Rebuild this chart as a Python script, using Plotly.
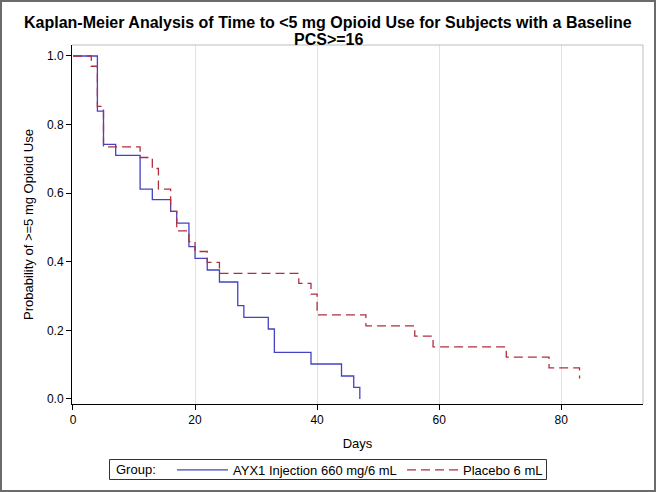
import plotly.graph_objects as go

# Data
ayx_days = [0, 4, 5, 7, 11, 13, 16, 17, 19, 20, 22, 24, 27, 28, 32, 33, 39, 44, 46, 47]
ayx_surv = [1.0, 0.839, 0.742, 0.710, 0.612, 0.581, 0.547, 0.513, 0.444, 0.410,
            0.376, 0.341, 0.272, 0.238, 0.204, 0.136, 0.102, 0.067, 0.034, 0.0]

pbo_days = [0, 3, 4, 5, 11, 13, 14, 16, 17, 19, 20, 22, 24, 37, 39, 40, 48, 56, 59, 71, 78, 83]
pbo_surv = [1.0, 0.970, 0.853, 0.735, 0.704, 0.672, 0.612, 0.547, 0.490, 0.459, 0.430,
            0.398, 0.366, 0.337, 0.306, 0.245, 0.213, 0.183, 0.152, 0.122, 0.091, 0.060]

x_ticks = [0, 20, 40, 60, 80]
y_ticks = [0.0, 0.2, 0.4, 0.6, 0.8, 1.0]

title_line1 = "Kaplan-Meier Analysis of Time to &lt;5 mg Opioid Use for Subjects with a Baseline"
title_line2 = "PCS&gt;=16"
legend_title = "Group:"

FONT = "Liberation Sans, Arial, sans-serif"

fig = go.Figure()
fig.add_trace(go.Scatter(x=ayx_days, y=ayx_surv, mode="lines", line_shape="hv",
                         name="AYX1 Injection 660 mg/6 mL",
                         line=dict(color="#4343c4", width=1.3)))
fig.add_trace(go.Scatter(x=pbo_days, y=pbo_surv, mode="lines", line_shape="hv",
                         name="Placebo 6 mL",
                         line=dict(color="#b02f3f", width=1.3, dash="9px,5px")))

L, R, T, B = 72, 13, 45, 88
W, H = 656, 492
pw, ph = W - L - R, H - T - B

def px2paper_x(px):
    return (px - L) / pw

def px2paper_y(py):
    return (H - B - py) / ph

fig.update_layout(
    width=W, height=H,
    margin=dict(l=L, r=R, t=T, b=B, autoexpand=False),
    paper_bgcolor="white", plot_bgcolor="white",
    font=dict(family=FONT, size=12, color="black"),
    xaxis=dict(range=[-0.16, 93.4], tickvals=x_ticks, ticks="outside", ticklen=5,
               tickcolor="black", showline=True, linecolor="black", linewidth=1,
               showgrid=True, gridcolor="#e2e2e2", gridwidth=1, zeroline=False,
               title=dict(text="Days", font=dict(size=13), standoff=12),
               tickfont=dict(size=12), automargin=False),
    yaxis=dict(range=[-0.0146, 1.032], tickvals=y_ticks, tickformat=".1f", ticks="outside",
               ticklen=5, tickcolor="black", showline=True, linecolor="black", linewidth=1,
               showgrid=False, zeroline=False,
               title=dict(text="Probability of &gt;=5 mg Opioid Use", font=dict(size=13), standoff=10),
               tickfont=dict(size=12), automargin=False),
    legend=dict(orientation="h", x=px2paper_x(172), xanchor="left",
                y=px2paper_y(470), yanchor="middle",
                borderwidth=0, bgcolor="rgba(0,0,0,0)",
                font=dict(size=13), itemwidth=51, tracegroupgap=0,
                entrywidth=164, entrywidthmode="pixels"),
    showlegend=True,
    annotations=[
        dict(text="<b>" + title_line1 + "</b>", xref="paper", yref="paper",
             x=px2paper_x(328), y=px2paper_y(22), xanchor="center", yanchor="middle",
             showarrow=False, font=dict(size=16, family=FONT, color="black")),
        dict(text="<b>" + title_line2 + "</b>", xref="paper", yref="paper",
             x=px2paper_x(328), y=px2paper_y(40), xanchor="center", yanchor="middle",
             showarrow=False, font=dict(size=16, family=FONT, color="black")),
        dict(text=legend_title, xref="paper", yref="paper",
             x=px2paper_x(114), y=px2paper_y(470), xanchor="left", yanchor="middle",
             showarrow=False, font=dict(size=13, family=FONT, color="black")),
    ],
    shapes=[
        dict(type="line", xref="paper", yref="paper", x0=0, x1=1, y0=1, y1=1,
             line=dict(color="#bdbdbd", width=1)),
        dict(type="line", xref="paper", yref="paper", x0=1, x1=1, y0=0, y1=1,
             line=dict(color="#bdbdbd", width=1)),
        # legend frame
        dict(type="rect", xref="paper", yref="paper",
             x0=px2paper_x(109.5), x1=px2paper_x(546.5), y0=px2paper_y(479.5), y1=px2paper_y(459.5),
             line=dict(color="#333333", width=1)),
        # outer image border
        dict(type="rect", xref="paper", yref="paper",
             x0=px2paper_x(1), x1=px2paper_x(W - 1), y0=px2paper_y(H - 1), y1=px2paper_y(1),
             line=dict(color="#6b6b6b", width=2), layer="below"),
    ],
)

fig.write_html("out.html", config={"displayModeBar": False},
               post_script="document.body.style.margin='0px';document.body.style.overflow='hidden';")
